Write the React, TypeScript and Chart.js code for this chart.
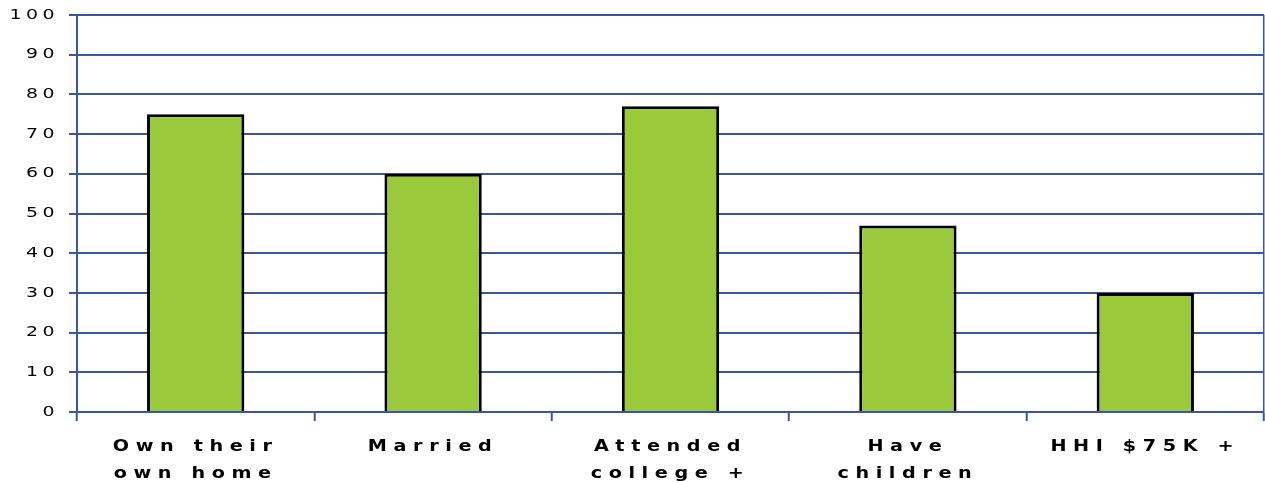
import React, { useEffect, useRef } from "react";
import { Chart, registerables } from "chart.js";

Chart.register(...registerables);

const categories: string[][] = [
  ["Own their", "own home"],
  ["Married"],
  ["Attended", "college +"],
  ["Have", "children"],
  ["HHI $75K +"],
];
const values: number[] = [75, 60, 77, 47, 30];
const yMin = 0;
const yMax = 100;
const yStep = 10;

const BLUE = "#3955A5";
const GREEN = "#9ACA3C";

// text look: letter spacing and horizontal stretch of the glyphs
function patchScale(scale: any, spacing: string, stretch: number) {
  if (!scale || scale.__spacingPatched) return;
  const orig = scale.drawLabels;
  scale.drawLabels = function (area: any) {
    const ctx = this.ctx as any;
    const prev = ctx.letterSpacing;
    ctx.letterSpacing = spacing;
    const protoFill = CanvasRenderingContext2D.prototype.fillText;
    ctx.fillText = function (text: string, x: number, y: number) {
      this.save();
      this.translate(x, y);
      this.scale(stretch, 1);
      protoFill.call(this, text, 0, 0);
      this.restore();
    };
    try {
      orig.call(this, area);
    } finally {
      delete ctx.fillText;
      ctx.letterSpacing = prev;
    }
  };
  scale.__spacingPatched = true;
}

const textPlugin = {
  id: "textLook",
  afterLayout(chart: any) {
    patchScale(chart.scales.x, "5.5px", 1.2);
    patchScale(chart.scales.y, "3.3px", 1.35);
  },
};

export default function App() {
  const ref = useRef<HTMLCanvasElement | null>(null);
  useEffect(() => {
    if (!ref.current) return;
    const chart = new Chart(ref.current, {
      type: "bar",
      data: {
        labels: categories,
        datasets: [
          {
            data: values,
            backgroundColor: GREEN,
            borderColor: "#000000",
            borderWidth: 3,
            borderSkipped: "bottom",
            categoryPercentage: 1,
            barPercentage: 0.41,
          },
        ],
      },
      options: {
        animation: false,
        responsive: true,
        maintainAspectRatio: false,
        layout: { padding: { top: 15, right: 1, left: 0, bottom: 0 } },
        plugins: {
          legend: { display: false },
          tooltip: { enabled: false },
        },
        scales: {
          x: {
            grid: {
              display: true,
              offset: true,
              drawOnChartArea: true,
              color: (c: any) => (c.index === undefined ? BLUE : "rgba(0,0,0,0)"),
              lineWidth: 1.5,
              tickColor: BLUE,
              tickLength: 9,
              tickWidth: 2,
            },
            border: { display: true, color: BLUE, width: 2 },
            ticks: {
              autoSkip: false,
              maxRotation: 0,
              color: "#000000",
              padding: 12,
              font: { family: "'DejaVu Sans', Verdana, sans-serif", size: 16, weight: "bold", lineHeight: 1.69 },
            },
            afterFit: (s: any) => {
              s.height = 70;
              s.paddingLeft = 0;
              s.paddingRight = 0;
            },
          },
          y: {
            min: yMin,
            max: yMax,
            grid: {
              color: BLUE,
              lineWidth: 2,
              tickLength: 8,
            },
            border: { display: true, color: BLUE, width: 2 },
            ticks: {
              stepSize: yStep,
              color: "#000000",
              padding: 10,
              font: { family: "'DejaVu Sans', Verdana, sans-serif", size: 14 },
            },
            afterFit: (s: any) => {
              s.width = 77;
              s.paddingTop = 0;
              s.paddingBottom = 0;
            },
          },
        },
      },
      plugins: [textPlugin],
    });
    return () => chart.destroy();
  }, []);
  return (
    <div style={{ position: "absolute", left: 0, top: 0, width: 1265, height: 482, background: "#fff" }}>
      <canvas ref={ref} />
    </div>
  );
}
